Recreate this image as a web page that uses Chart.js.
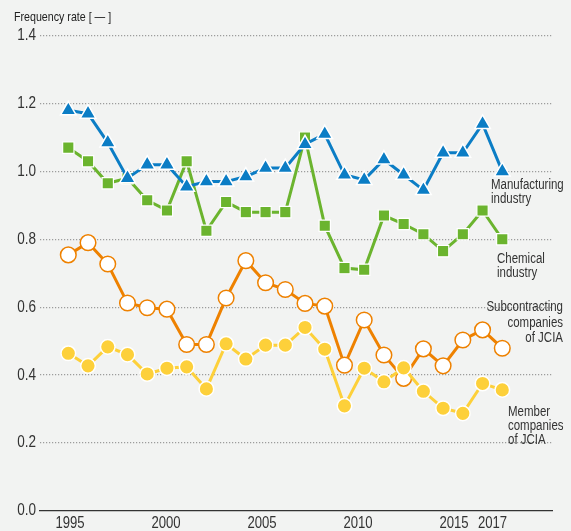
<!DOCTYPE html>
<html><head><meta charset="utf-8">
<script src="https://cdn.jsdelivr.net/npm/chart.js@4/dist/chart.umd.min.js"></script>
<style>html,body{margin:0;padding:0;background:#f2f3f2;}canvas{display:block;}</style>
</head><body>
<canvas id="c" width="571" height="531"></canvas>
<script>
const years = [1995,1996,1997,1998,1999,2000,2001,2002,2003,2004,2005,2006,2007,2008,2009,2010,2011,2012,2013,2014,2015,2016,2017];
const manufacturing = [1.18,1.17,1.085,0.98,1.02,1.02,0.955,0.97,0.97,0.985,1.01,1.01,1.08,1.11,0.99,0.975,1.035,0.99,0.945,1.055,1.055,1.14,1.0];
const chemical = [1.07,1.03,0.965,0.98,0.915,0.885,1.03,0.825,0.91,0.88,0.88,0.88,1.10,0.84,0.715,0.71,0.87,0.845,0.815,0.765,0.815,0.885,0.80];
const subcontracting = [0.754,0.79,0.727,0.612,0.598,0.594,0.49,0.49,0.627,0.737,0.672,0.652,0.611,0.603,0.429,0.562,0.459,0.39,0.477,0.427,0.503,0.533,0.479];
const member = [0.464,0.427,0.483,0.46,0.403,0.42,0.424,0.359,0.492,0.447,0.488,0.488,0.54,0.476,0.309,0.42,0.38,0.421,0.352,0.302,0.287,0.375,0.356];
const xTickYears = [1995,2000,2005,2010,2015,2017];
const yTicks = [0,0.2,0.4,0.6,0.8,1.0,1.2,1.4];
const titleText = 'Frequency rate [ — ]';
const seriesLabels = [['Manufacturing','industry'],['Chemical','industry'],['Subcontracting','companies','of JCIA'],['Member','companies','of JCIA']];

const FONT = "'Liberation Sans',Arial,sans-serif";
const NARROW = 0.82;
const BLUE = '#0b7dc5', GREEN = '#6bb42e', ORANGE = '#ee8100', YELLOW = '#fdd03a', TEXT = '#333333';

const canvas = document.getElementById('c');
const ctx2d = canvas.getContext('2d');
// draw all text horizontally condensed (narrow face look)
const origFillText = ctx2d.fillText.bind(ctx2d);
ctx2d.fillText = function(text, x, y, maxWidth){
  this.save();
  this.translate(x, y);
  this.scale(NARROW, 1);
  origFillText(text, 0, 0);
  this.restore();
};

const labelSpots = [
  {x:491, y:189, align:'left', lh:13.5},
  {x:497, y:263, align:'left', lh:13.5},
  {x:563, y:311, align:'right', lh:15.5},
  {x:508, y:416, align:'left', lh:14}
];

const seriesLabelPlugin = {
  id:'seriesLabelPlugin',
  afterDatasetsDraw(chart){
    const ctx = chart.ctx;
    ctx.save();
    ctx.font = '14px ' + FONT;
    ctx.fillStyle = TEXT;
    ctx.textBaseline = 'alphabetic';
    labelSpots.forEach((s,i)=>{
      ctx.textAlign = s.align;
      seriesLabels[i].forEach((line,j)=>ctx.fillText(line, s.x, s.y + j*s.lh));
    });
    ctx.restore();
  }
};

const pts = arr => years.map((y,i)=>({x:y, y:arr[i]}));

new Chart(ctx2d, {
  type:'line',
  data:{datasets:[
    {label:'Manufacturing industry', data:pts(manufacturing), borderColor:BLUE, backgroundColor:BLUE, borderWidth:3, tension:0,
     pointStyle:'triangle', pointRadius:9, pointBackgroundColor:BLUE, pointBorderColor:'#fff', pointBorderWidth:1.5, order:0},
    {label:'Chemical industry', data:pts(chemical), borderColor:GREEN, backgroundColor:GREEN, borderWidth:3, tension:0,
     pointStyle:'rect', pointRadius:8, pointBackgroundColor:GREEN, pointBorderColor:'#fff', pointBorderWidth:1.2, order:1},
    {label:'Subcontracting companies of JCIA', data:pts(subcontracting), borderColor:ORANGE, backgroundColor:'#fff', borderWidth:3, tension:0,
     pointStyle:'circle', pointRadius:7.8, pointBackgroundColor:'#fff', pointBorderColor:ORANGE, pointBorderWidth:1.5, order:3},
    {label:'Member companies of JCIA', data:pts(member), borderColor:YELLOW, backgroundColor:YELLOW, borderWidth:3, tension:0,
     pointStyle:'circle', pointRadius:7.3, pointBackgroundColor:YELLOW, pointBorderColor:'#fff', pointBorderWidth:1.5, order:2}
  ]},
  options:{
    responsive:false, animation:false, events:[],
    layout:{padding:{left:14,right:19,top:0,bottom:0}},
    plugins:{
      legend:{display:false}, tooltip:{enabled:false},
      title:{display:true, text:titleText, align:'start', color:'#222', font:{family:FONT,size:13,weight:'normal'}, padding:{top:10,bottom:10.1}}
    },
    scales:{
      x:{type:'linear', min:1993.565, max:2019.52, display:false},
      xt:{type:'linear', position:'bottom', min:1993.438, max:2020.10,
        afterBuildTicks:s=>{s.ticks = xTickYears.map(v=>({value:v}));},
        ticks:{autoSkip:false, maxRotation:0, minRotation:0, padding:3, color:TEXT, font:{family:FONT,size:16}, callback:v=>String(v)},
        grid:{display:false, drawTicks:false}, border:{display:true,color:'#333',width:1.3},
        afterFit:s=>{s.height = 20.3;}
      },
      y:{min:0, max:1.4,
        afterBuildTicks:s=>{s.ticks = yTicks.map(v=>({value:v}));},
        ticks:{padding:4, color:TEXT, font:{family:FONT,size:16.5}, callback:v=>Number(v).toFixed(1)},
        grid:{drawTicks:false, lineWidth:1.2, color:c=>(c.tick && c.tick.value===0)?'rgba(0,0,0,0)':'#9c9c9c'},
        border:{display:false, dash:[1.2,1.8]},
        afterFit:s=>{s.width = 26;}
      }
    }
  },
  plugins:[seriesLabelPlugin]
});
</script>
</body></html>
